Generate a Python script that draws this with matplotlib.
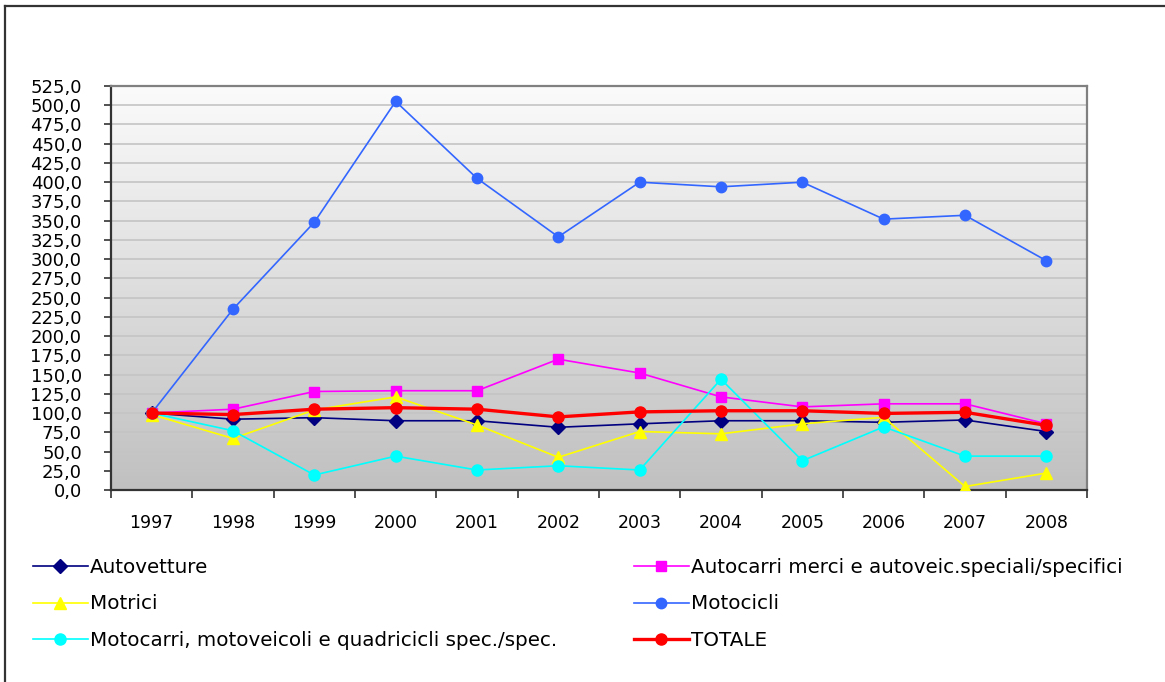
import numpy as np
import matplotlib
matplotlib.use("Agg")
import matplotlib.pyplot as plt
from matplotlib.lines import Line2D
from matplotlib.colors import LinearSegmentedColormap

years = ["1997", "1998", "1999", "2000", "2001", "2002",
         "2003", "2004", "2005", "2006", "2007", "2008"]

autovetture = [100, 92, 94, 90, 90, 81.5, 86, 90, 90, 88, 91, 76]
autocarri = [100, 105, 128, 129, 129, 170, 152, 121, 108, 112, 112, 86]
motrici = [98, 67, 104, 121, 84.5, 42.5, 76, 73, 86, 94.5, 4.5, 22]
motocicli = [100, 235, 348, 505, 405, 329, 400, 394, 400, 352, 357, 298]
motocarri = [100, 77, 19.5, 44, 26, 31.5, 26, 144, 38, 82, 44, 44]
totale = [100, 98, 105, 107, 105, 95, 101.5, 103, 103, 99.5, 101, 84]

series = [
    ("Autovetture", autovetture, "#000080", "D", 7, 1.2),
    ("Autocarri merci e autoveic.speciali/specifici", autocarri, "#ff00ff", "s", 7.5, 1.2),
    ("Motrici", motrici, "#ffff00", "^", 8.5, 1.2),
    ("Motocicli", motocicli, "#3366ff", "o", 7.5, 1.2),
    ("Motocarri, motoveicoli e quadricicli spec./spec.", motocarri, "#00ffff", "o", 8, 1.2),
    ("TOTALE", totale, "#ff0000", "o", 8, 2.4),
]

plt.rcParams['font.family'] = ['DejaVu Sans']

fig = plt.figure(figsize=(11.65, 6.82), dpi=100)
ax = fig.add_axes([111 / 1165, 1 - 490 / 682, (1087 - 111) / 1165, (490 - 86) / 682])

# gradient plot area
cmap = LinearSegmentedColormap.from_list("bg", ["#c0c0c0", "#fbfbfb"])
grad = np.linspace(0, 1, 256).reshape(-1, 1)
ax.imshow(grad, cmap=cmap, aspect="auto", extent=(0, 1, 0, 1),
          transform=ax.transAxes, origin="lower", zorder=0)

x = np.arange(len(years))
handles = []
for label, vals, col, mk, ms, lw in series:
    h, = ax.plot(x, vals, color=col, marker=mk, markersize=ms, linewidth=lw,
                 markeredgecolor=col, label=label, zorder=3)
    handles.append(h)

ax.set_xlim(-0.5, len(years) - 0.5)
ax.set_ylim(0, 525)
yt = np.arange(0, 526, 25)
ax.set_yticks(yt)
ax.set_yticklabels([("%.1f" % v).replace(".", ",") for v in yt], fontsize=13)
ax.yaxis.grid(True, color="#c4c4c4", linewidth=1.2, zorder=1)
ax.set_axisbelow(True)

ax.set_xticks(np.arange(-0.5, len(years), 1))
ax.set_xticklabels([])
ax.set_xticks(x, minor=True)
ax.set_xticklabels(years, minor=True, fontsize=12.5)
ax.tick_params(axis="x", which="major", direction="out", length=6, width=1.2, color="#333333")
ax.tick_params(axis="x", which="minor", length=0, pad=17)
ax.tick_params(axis="y", direction="out", length=5, width=1.2, color="#333333", pad=16)

for s in ["left", "bottom"]:
    ax.spines[s].set_color("#333333")
    ax.spines[s].set_linewidth(1.6)
for s in ["top", "right"]:
    ax.spines[s].set_color("#808080")
    ax.spines[s].set_linewidth(1.6)

# outer chart frame (left and top edges)
fig.add_artist(Line2D([5 / 1165, 5 / 1165], [-0.01, 1 - 6 / 682], transform=fig.transFigure,
                      color="#333333", linewidth=1.6))
fig.add_artist(Line2D([5 / 1165, 1.01], [1 - 6 / 682, 1 - 6 / 682], transform=fig.transFigure,
                      color="#333333", linewidth=1.6))

leg_kw = dict(frameon=False, fontsize=14.3, handlelength=2.75, handletextpad=0.12,
              labelspacing=0.88, borderaxespad=0, borderpad=0)
leg1 = fig.legend([handles[0], handles[2], handles[4]],
                  [series[0][0], series[2][0], series[4][0]],
                  loc="upper left", bbox_to_anchor=(33 / 1165, 1 - 558 / 682), **leg_kw)
leg2 = fig.legend([handles[1], handles[3], handles[5]],
                  [series[1][0], series[3][0], series[5][0]],
                  loc="upper left", bbox_to_anchor=(634 / 1165, 1 - 558 / 682), **leg_kw)

fig.savefig("out.png", dpi=100)
